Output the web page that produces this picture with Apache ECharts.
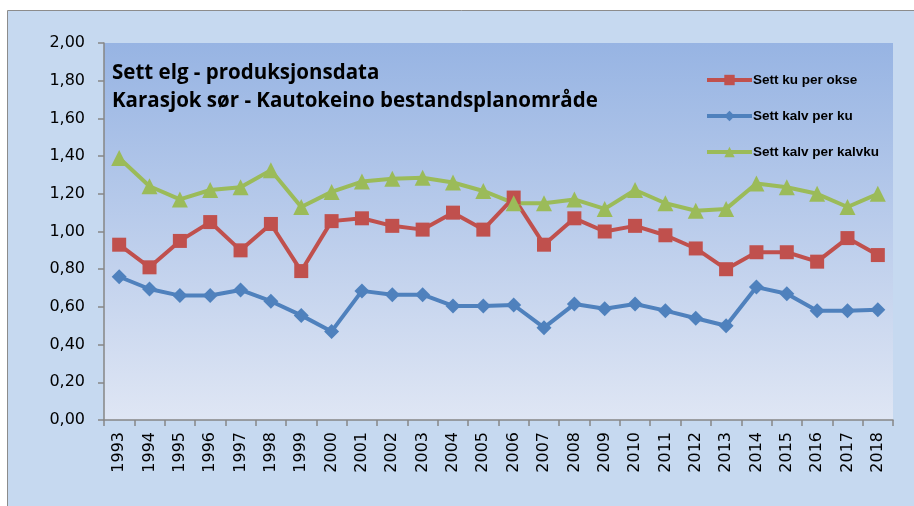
<!DOCTYPE html>
<html>
<head>
<meta charset="utf-8">
<title>Sett elg - produksjonsdata</title>
<script src="https://cdn.jsdelivr.net/npm/echarts@6/dist/echarts.min.js"></script>
<style>
  html, body { margin: 0; padding: 0; background: #ffffff; }
  #chart { width: 914px; height: 506px; }
</style>
</head>
<body>
<div id="chart"></div>
<script>
// data
const years = ['1993', '1994', '1995', '1996', '1997', '1998', '1999', '2000', '2001', '2002', '2003', '2004', '2005',
  '2006', '2007', '2008', '2009', '2010', '2011', '2012', '2013', '2014', '2015', '2016', '2017', '2018']
const kuPerOkse = [0.93, 0.81, 0.95, 1.05, 0.90, 1.04, 0.79, 1.055, 1.07, 1.03, 1.01, 1.10, 1.01,
  1.18, 0.93, 1.07, 1.00, 1.03, 0.98, 0.91, 0.80, 0.89, 0.89, 0.84, 0.965, 0.875]
const kalvPerKu = [0.76, 0.695, 0.66, 0.66, 0.69, 0.63, 0.555, 0.47, 0.685, 0.665, 0.665, 0.605, 0.605,
  0.61, 0.49, 0.615, 0.59, 0.615, 0.58, 0.54, 0.50, 0.705, 0.67, 0.58, 0.58, 0.585]
const kalvPerKalvku = [1.39, 1.24, 1.17, 1.22, 1.235, 1.325, 1.13, 1.21, 1.265, 1.28, 1.285, 1.26, 1.215,
  1.15, 1.15, 1.17, 1.12, 1.22, 1.15, 1.11, 1.12, 1.255, 1.235, 1.20, 1.13, 1.20]

const chart = echarts.init(document.getElementById('chart'))

const axisGrey = '#868686'
const labelFont = 'DejaVu Sans'

chart.setOption({
  backgroundColor: '#ffffff',
  animation: false,
  // ytre ramme
  graphic: [
    {
      type: 'rect',
      z: -10,
      shape: { x: 7.5, y: 10.5, width: 920, height: 520 },
      style: { fill: '#c6d9f0', stroke: '#8c8c8c', lineWidth: 1 }
    }
  ],
  title: {
    text: 'Sett elg - produksjonsdata\nKarasjok sør - Kautokeino bestandsplanområde',
    left: 107,
    top: 54,
    textStyle: {
      fontFamily: 'Open Sans',
      fontWeight: 'bold',
      fontSize: 20.5,
      lineHeight: 28,
      color: '#000000'
    }
  },
  legend: {
    orient: 'vertical',
    left: 700,
    top: 68,
    itemWidth: 45,
    itemHeight: 13,
    itemGap: 22,
    lineStyle: { width: 4 },
    textStyle: {
      fontFamily: 'Liberation Sans',
      fontWeight: 'bold',
      fontSize: 13.5,
      color: '#000000',
      padding: [0, 0, 0, -4]
    },
    data: ['Sett ku per okse', 'Sett kalv per ku', 'Sett kalv per kalvku']
  },
  grid: {
    left: 104,
    right: 21,
    top: 43,
    bottom: 86,
    show: true,
    borderWidth: 0,
    backgroundColor: new echarts.graphic.LinearGradient(0, 0, 0, 1, [
      { offset: 0, color: '#97b4e3' },
      { offset: 1, color: '#dfe6f4' }
    ])
  },
  xAxis: {
    type: 'category',
    data: years,
    boundaryGap: true,
    axisLine: { lineStyle: { color: axisGrey, width: 1.5 } },
    axisTick: { show: true, length: 6, lineStyle: { color: axisGrey, width: 1.5 } },
    axisLabel: {
      rotate: 90,
      margin: 12,
      fontFamily: labelFont,
      fontSize: 16,
      color: '#000000',
      interval: 0
    }
  },
  yAxis: {
    type: 'value',
    min: 0,
    max: 2,
    interval: 0.2,
    axisLine: { show: true, lineStyle: { color: axisGrey, width: 1.5 } },
    axisTick: { show: true, length: 6, lineStyle: { color: axisGrey, width: 1.5 } },
    splitLine: { show: false },
    axisLabel: {
      margin: 19,
      fontFamily: labelFont,
      fontSize: 16,
      color: '#000000',
      formatter: v => v.toFixed(2).replace('.', ',')
    }
  },
  series: [
    {
      name: 'Sett ku per okse',
      type: 'line',
      data: kuPerOkse,
      symbol: 'rect',
      symbolSize: 14,
      lineStyle: { color: '#c0504d', width: 4 },
      itemStyle: { color: '#c0504d' }
    },
    {
      name: 'Sett kalv per ku',
      type: 'line',
      data: kalvPerKu,
      symbol: 'diamond',
      symbolSize: 15,
      lineStyle: { color: '#4f81bd', width: 4 },
      itemStyle: { color: '#4f81bd' }
    },
    {
      name: 'Sett kalv per kalvku',
      type: 'line',
      data: kalvPerKalvku,
      symbol: 'triangle',
      symbolSize: 16,
      lineStyle: { color: '#9bbb59', width: 4 },
      itemStyle: { color: '#9bbb59' }
    }
  ]
})
</script>
</body>
</html>
